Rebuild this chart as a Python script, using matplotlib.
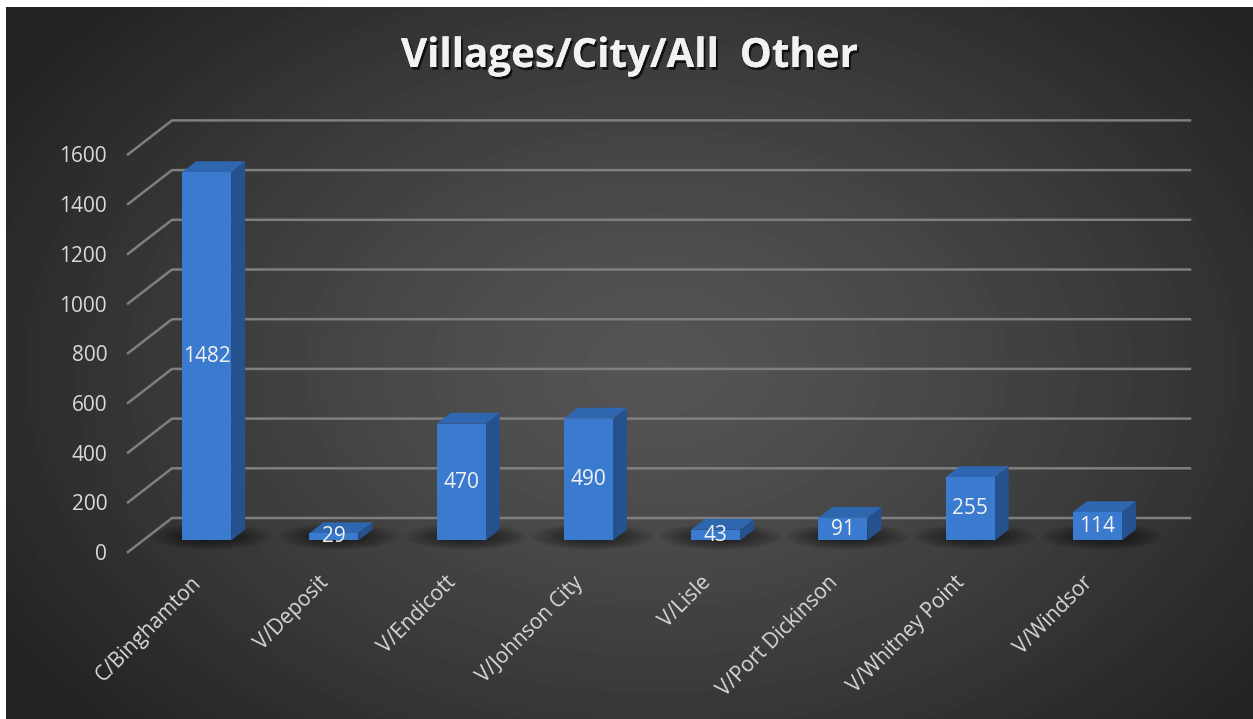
'''
Villages/City/All Other - excel style 3d column chart
'''
import numpy as np
import matplotlib
matplotlib.use("Agg")
import matplotlib.pyplot as plt
import matplotlib.patheffects as pe
from matplotlib.patches import Polygon, Ellipse
from matplotlib.lines import Line2D
from matplotlib.transforms import IdentityTransform, ScaledTranslation

# data
places = ["C/Binghamton", "V/Deposit", "V/Endicott", "V/Johnson City",
          "V/Lisle", "V/Port Dickinson", "V/Whitney Point", "V/Windsor"]
counts = [1482, 29, 470, 490, 43, 91, 255, 114]
y_ticks = [0, 200, 400, 600, 800, 1000, 1200, 1400, 1600]
title = "Villages/City/All  Other"

W, H = 1253, 719
plt.rcParams['font.family'] = ['Open Sans', 'DejaVu Sans']

fig = plt.figure(figsize=(W / 100, H / 100), dpi=100, facecolor='white')

# background with radial gradient (white border top / left like the screenshot)
bg = fig.add_axes([6 / W, 0, 1 - 6 / W, 1 - 7 / H])
yy, xx = np.mgrid[0:H - 7, 0:W - 6]
r = np.sqrt(((xx - 650) / 760.0) ** 2 + ((yy - 360) / 520.0) ** 2)
r = np.clip(r, 0, 1) ** 1.3
shade = 0x55 + (0x23 - 0x55) * r
bg.imshow(shade / 255.0, cmap='gray', vmin=0, vmax=1, aspect='auto',
          interpolation='bilinear')
bg.axis('off')

# front plane of the 3d box
x0, x1 = 128, 1146
y_zero, y_top = 552, 154.4
ax = fig.add_axes([x0 / W, (H - y_zero) / H, (x1 - x0) / W, (y_zero - y_top) / H])
ax.set_xlim(-0.5, len(places) - 0.5)
ax.set_ylim(0, 1600)
ax.patch.set_visible(False)
for s in ax.spines.values():
    s.set_visible(False)

DX, DY = 44, 34  # depth direction in pixels


def disp(x, y, d):
    p = ax.transData.transform((x, y))
    return p[0] + DX * d, p[1] + DY * d


grid_c = '#7f7f7f'
ident = IdentityTransform()
for v in y_ticks:
    a = disp(-0.5, v, 0)
    b = disp(-0.5, v, 1)
    c = disp(len(places) - 0.5, v, 1)
    ax.add_line(Line2D([a[0], b[0], c[0]], [a[1], b[1], c[1]], transform=ident,
                       color=grid_c, lw=1.8, zorder=1, clip_on=False))

bar_w = 0.385
d0, d1 = 0.34, 0.66
front_c = '#3a7bd0'
side_c = '#25528f'
top_c = '#2f66b0'

for i, v in enumerate(counts):
    xl, xr = i - bar_w / 2, i + bar_w / 2
    # soft shadow on the floor
    cx, cy = disp(i, 0, 0.45)
    for k in range(7):
        ax.add_patch(Ellipse((cx, cy), 120 - k * 12, 26 - k * 2.5,
                             transform=ident, facecolor='black', alpha=0.08,
                             lw=0, zorder=2, clip_on=False))
    side = [disp(xr, 0, d0), disp(xr, v, d0), disp(xr, v, d1), disp(xr, 0, d1)]
    top = [disp(xl, v, d0), disp(xr, v, d0), disp(xr, v, d1), disp(xl, v, d1)]
    front = [disp(xl, 0, d0), disp(xr, 0, d0), disp(xr, v, d0), disp(xl, v, d0)]
    ax.add_patch(Polygon(side, closed=True, transform=ident, facecolor=side_c,
                         edgecolor='none', zorder=3, clip_on=False))
    ax.add_patch(Polygon(top, closed=True, transform=ident, facecolor=top_c,
                         edgecolor='none', zorder=3, clip_on=False))
    ax.add_patch(Polygon(front, closed=True, transform=ident, facecolor=front_c,
                         edgecolor='none', zorder=4, clip_on=False))
    lx, ly = disp(i, v / 2, d0)
    ax.text(lx, ly, str(v), transform=ident, ha='center', va='center',
            fontsize=15, color='#f2f2f2', zorder=6, clip_on=False)

ax.set_yticks(y_ticks)
ax.set_yticklabels([str(t) for t in y_ticks])
ax.set_xticks(range(len(places)))
ax.set_xticklabels(places)
ax.tick_params(axis='y', length=0, pad=15, labelsize=15, labelcolor='#d9d9d9')
ax.tick_params(axis='x', length=0, pad=20, labelsize=15, labelcolor='#d9d9d9',
               labelrotation=45)
shift = ScaledTranslation(7 / 100, 0, fig.dpi_scale_trans)
for lab in ax.get_xticklabels():
    lab.set_ha('right')
    lab.set_va('center')
    lab.set_rotation_mode('anchor')
    lab.set_transform(lab.get_transform() + shift)

fig.text(629 / W, 1 - 67 / H, title, ha='center', va='baseline', fontsize=29,
         fontweight='bold', color='#f2f2f2',
         path_effects=[pe.withSimplePatchShadow(offset=(1.5, -2), shadow_rgbFace='black', alpha=0.7),
                       pe.Normal()])

fig.savefig('out.png', dpi=100, facecolor=fig.get_facecolor())
